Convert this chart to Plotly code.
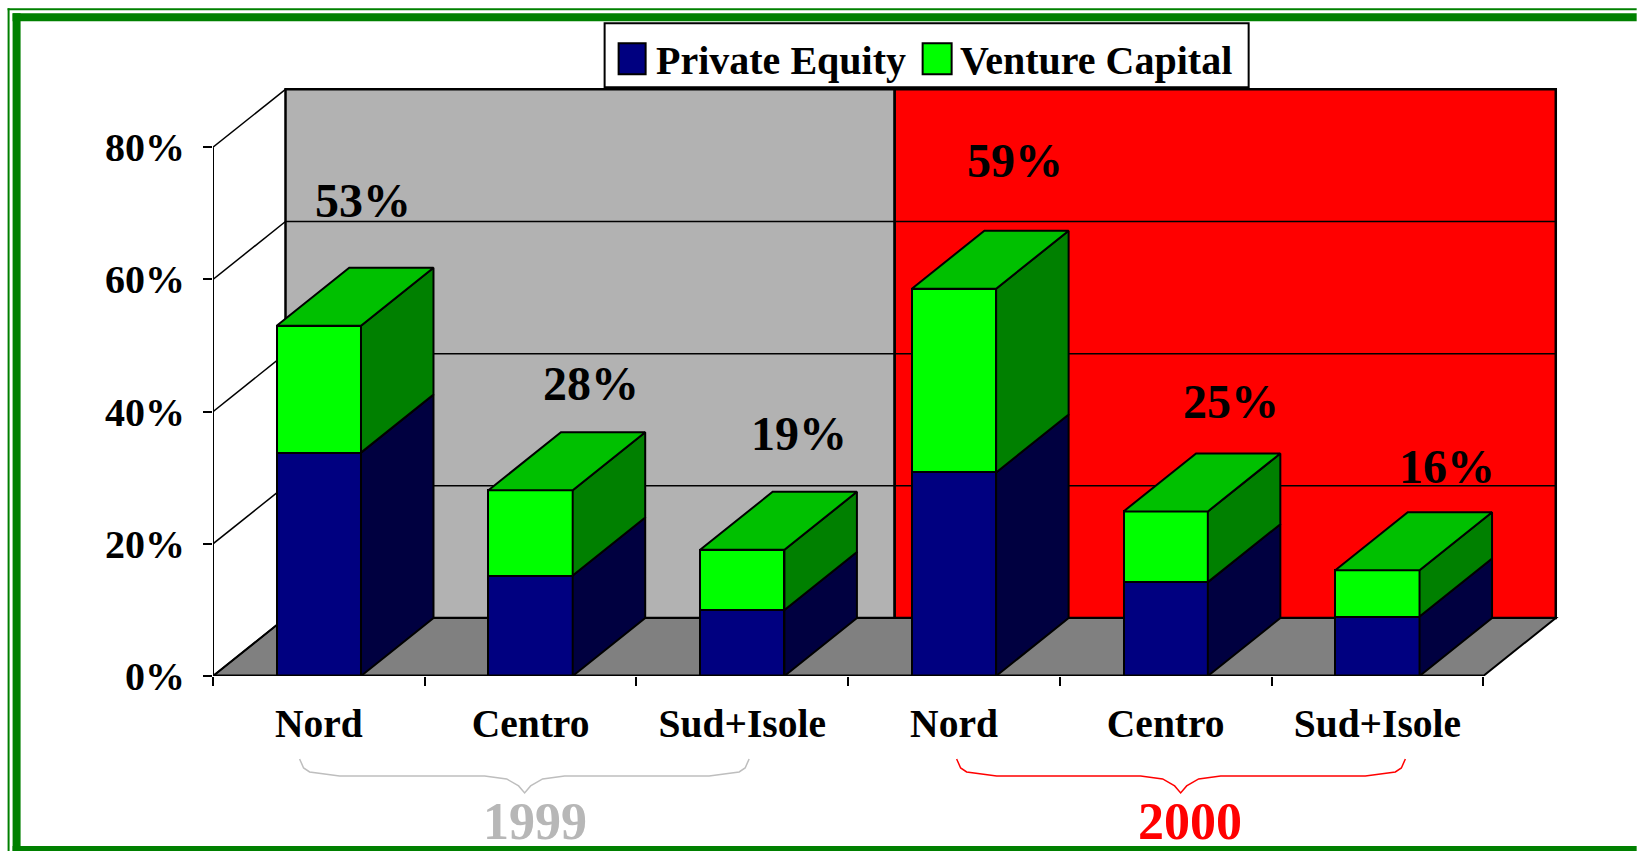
import plotly.graph_objects as go

# ---- data ----
categories = ["Nord", "Centro", "Sud+Isole", "Nord", "Centro", "Sud+Isole"]
private_equity = [33.8, 15.2, 10.0, 30.8, 14.2, 9.0]
venture_capital = [19.2, 12.9, 9.1, 27.8, 10.7, 7.0]
total_labels = ["53%", "28%", "19%", "59%", "25%", "16%"]
series_names = ["Private Equity", "Venture Capital"]
y_ticks = [0, 20, 40, 60, 80]
y_tick_labels = ["0%", "20%", "40%", "60%", "80%"]
group_names = ["1999", "2000"]

# ---- label placement (data units) ----
label_x = [0.707, 1.784, 2.77, 3.79, 4.81, 5.83]
label_y = [71.9, 44.2, 36.7, 78.0, 41.6, 31.7]

# ---- geometry / style ----
W, H = 1637, 851
X0, Y0 = 213.4, 676.0          # pixel of the chart origin
PX_CAT, PX_PCT = 211.7, 6.6125 # pixels per category / per percent
DX, DY = 72.5 / PX_CAT, 58 / PX_PCT  # depth of the pseudo 3-D box, data units
BAR_W = 0.398
SPLIT = 3.22                   # where the wall changes colour
XMAX, YMAX = 6 + DX + 0.02, 80 + DY + 0.5
L, B = X0, H - Y0
PW, PH = XMAX * PX_CAT, YMAX * PX_PCT
R, T = W - L - PW, H - B - PH
SERIF = "Liberation Serif"
NAVY, NAVY_D = "#000080", "#000040"
GREEN, GREEN_T, GREEN_D = "#00FF00", "#00C000", "#008000"
FRAME = "#008000"


def fx(px):
    return (px - L) / PW


def fy(py):
    return (Y0 - py) / PH


def bold(size, color="black"):
    return dict(family=SERIF, size=size, color=color, weight=700)


centers = [i + 0.5 for i in range(len(categories))]
tops = [p + v for p, v in zip(private_equity, venture_capital)]

fig = go.Figure()
fig.add_bar(x=centers, y=private_equity, width=BAR_W, name=series_names[0],
            marker=dict(color=NAVY, line=dict(color="black", width=2)), hoverinfo="skip")
fig.add_bar(x=centers, y=venture_capital, width=BAR_W, name=series_names[1],
            marker=dict(color=GREEN, line=dict(color="black", width=2)), hoverinfo="skip")


def polygons(color, faces):
    xs, ys = [], []
    for f in faces:
        xs += [p[0] for p in f] + [f[0][0], None]
        ys += [p[1] for p in f] + [f[0][1], None]
    fig.add_scatter(x=xs, y=ys, mode="lines", fill="toself", fillcolor=color,
                    line=dict(color="black", width=2), hoverinfo="skip", cliponaxis=False)


def side(c, lo, hi):
    x1 = c + BAR_W / 2
    return [(x1, lo), (x1 + DX, lo + DY), (x1 + DX, hi + DY), (x1, hi)]


def top(c, v):
    x0, x1 = c - BAR_W / 2, c + BAR_W / 2
    return [(x0, v), (x1, v), (x1 + DX, v + DY), (x0 + DX, v + DY)]


polygons(NAVY_D, [side(c, 0, p) for c, p in zip(centers, private_equity)])
polygons(GREEN_D, [side(c, p, t) for c, p, t in zip(centers, private_equity, tops)])
polygons(GREEN_T, [top(c, t) for c, t in zip(centers, tops)])

# front axis lines
fig.add_scatter(x=[0, 6], y=[0, 0], mode="lines", line=dict(color="black", width=3),
                hoverinfo="skip", cliponaxis=False)
fig.add_scatter(x=[0, 0], y=[0, 80], mode="lines", line=dict(color="black", width=2),
                hoverinfo="skip", cliponaxis=False)

shapes = [
    # back wall
    dict(type="rect", layer="below", xref="x", yref="y", x0=DX, x1=SPLIT, y0=DY, y1=80 + DY,
         fillcolor="#B2B2B2", line=dict(color="black", width=2.5)),
    dict(type="rect", layer="below", xref="x", yref="y", x0=SPLIT, x1=6 + DX, y0=DY, y1=80 + DY,
         fillcolor="#FF0000", line=dict(color="black", width=2.5)),
    # floor
    dict(type="path", layer="below", xref="x", yref="y",
         path=f"M0,0 L6,0 L{6 + DX},{DY} L{DX},{DY} Z",
         fillcolor="#808080", line=dict(color="black", width=2)),
]
for v in y_ticks[1:]:
    shapes.append(dict(type="line", layer="below", xref="x", yref="y",
                       x0=DX, x1=6 + DX, y0=v + DY, y1=v + DY, line=dict(color="black", width=1.5)))
for v in y_ticks:
    shapes.append(dict(type="line", layer="below", xref="x", yref="y",
                       x0=0, x1=DX, y0=v, y1=v + DY, line=dict(color="black", width=1.5)))


def brace(x0, xc, x1, color):
    a, b, c, d = 759, 769, 776, 793
    pts = [(x0, a), (x0 + 4, b - 1), (x0 + 10, b + 3), (x0 + 40, c),
           (xc - 40, c), (xc - 18, c + 3), (xc - 6, c + 10), (xc, d),
           (xc + 6, c + 10), (xc + 18, c + 3), (xc + 40, c),
           (x1 - 40, c), (x1 - 10, b + 3), (x1 - 4, b - 1), (x1, a)]
    path = "M" + " L".join(f"{fx(p):.5f},{fy(q):.5f}" for p, q in pts)
    return dict(type="path", xref="paper", yref="paper", path=path,
                line=dict(color=color, width=1.5))


shapes += [brace(300, 525, 749.5, "#BEBEBE"), brace(957, 1181, 1405.7, "#FF0000")]


def prect(x0, y0, x1, y1, fill, line=None):
    return dict(type="rect", xref="paper", yref="paper", x0=fx(x0), x1=fx(x1), y0=fy(y1), y1=fy(y0),
                fillcolor=fill, line=dict(color=line or fill, width=2 if line else 0))


# outer frame
shapes += [
    prect(8, 8, W, 10, FRAME), prect(8, 8, 10, H, FRAME),
    prect(13, 13, W, 21, FRAME), prect(13, 13, 21, H, FRAME), prect(13, 846, W, H, FRAME),
]
# legend box
shapes += [prect(605, 23, 1249, 87, "white", "black"),
           prect(619, 43, 646, 74, NAVY, "black"),
           prect(923, 43, 952, 74, GREEN, "black")]

annotations = [dict(xref="x", yref="y", x=x, y=y, text=t, showarrow=False, font=bold(48),
                    xanchor="center", yanchor="middle")
               for x, y, t in zip(label_x, label_y, total_labels)]
annotations += [
    dict(xref="paper", yref="paper", x=fx(654), y=fy(60), xanchor="left", yanchor="middle",
         text=series_names[0], showarrow=False, font=bold(40)),
    dict(xref="paper", yref="paper", x=fx(958), y=fy(60), xanchor="left", yanchor="middle",
         text=series_names[1], showarrow=False, font=bold(40)),
    dict(xref="paper", yref="paper", x=fx(535), y=fy(822), xanchor="center", yanchor="middle",
         text=group_names[0], showarrow=False, font=bold(52, "#B7B7B7")),
    dict(xref="paper", yref="paper", x=fx(1190), y=fy(822), xanchor="center", yanchor="middle",
         text=group_names[1], showarrow=False, font=bold(52, "#FF0000")),
]

fig.update_layout(
    width=W, height=H, margin=dict(l=L, r=R, t=T, b=B, pad=0, autoexpand=False),
    paper_bgcolor="white", plot_bgcolor="rgba(0,0,0,0)", barmode="stack", showlegend=False,
    shapes=shapes, annotations=annotations,
    xaxis=dict(range=[0, XMAX], tickmode="array", tickvals=centers, ticktext=categories,
               ticks="", showgrid=False, zeroline=False, showline=False,
               tickfont=bold(39.5), ticklabelstandoff=20, tickangle=0,
               minor=dict(tickmode="array", tickvals=list(range(7)), ticks="outside", ticklen=9,
                          tickwidth=1.5, tickcolor="black", showgrid=False)),
    yaxis=dict(range=[0, YMAX], tickmode="array", tickvals=y_ticks, ticktext=y_tick_labels,
               ticks="outside", ticklen=9, tickwidth=1.5, tickcolor="black", showgrid=False,
               zeroline=False, showline=False, tickfont=bold(40), ticklabelstandoff=10),
)

fig.write_html("out.html", config={"displayModeBar": False},
               post_script="document.body.style.margin='0';document.documentElement.style.overflow='hidden';")
